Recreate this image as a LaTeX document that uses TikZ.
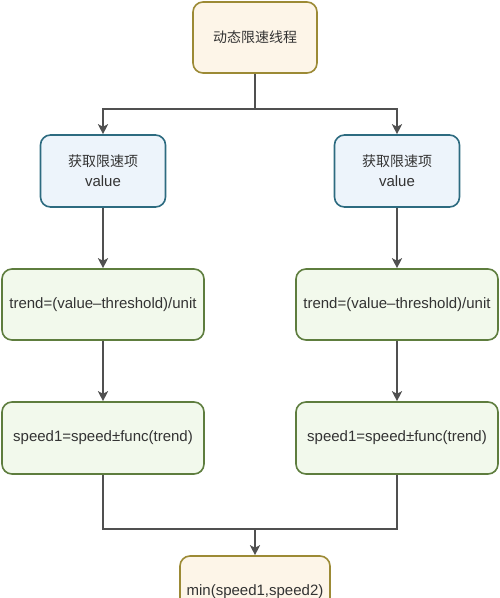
\documentclass[tikz,border=0pt]{standalone}
\usepackage{fontspec}
\setmainfont{Liberation Sans}
\newfontfamily\cjk{Noto Sans CJK SC}
\usetikzlibrary{arrows.meta}
\definecolor{txt}{HTML}{333333}
\definecolor{lin}{HTML}{505050}
\definecolor{yfill}{HTML}{FDF5E8}
\definecolor{ydraw}{HTML}{9C8A35}
\definecolor{bfill}{HTML}{EDF4FB}
\definecolor{bdraw}{HTML}{2D6B80}
\definecolor{gfill}{HTML}{F2F9EC}
\definecolor{gdraw}{HTML}{5E7D3E}
\tikzset{
  x=1pt, y=1pt,
  boxbase/.style={rounded corners=10pt, line width=1.6pt, align=center, text=txt, inner sep=0pt, font=\fontsize{15}{20}\selectfont},
  ybox/.style={boxbase, fill=yfill, draw=ydraw},
  bbox/.style={boxbase, fill=bfill, draw=bdraw, minimum width=125pt, minimum height=72pt},
  gbox/.style={boxbase, fill=gfill, draw=gdraw, minimum width=202pt, minimum height=71pt},
  arr/.style={draw=lin, line width=2pt, -{Stealth[length=10pt,width=10pt,inset=2.5pt]}},
  ln/.style={draw=lin, line width=2pt},
}
\begin{document}
\begin{tikzpicture}
\useasboundingbox (0,0) rectangle (500,-598);
\clip (0,0) rectangle (500,-598);
\node[ybox, minimum width=124pt, minimum height=71pt] (top) at (255,-37.5) {\cjk\fontsize{14}{20}\selectfont 动态限速线程};
\node[bbox] (b1) at (103,-171) {{\cjk\fontsize{14}{20}\selectfont 获取限速项}\\value};
\node[bbox] (b2) at (397,-171) {{\cjk\fontsize{14}{20}\selectfont 获取限速项}\\value};
\node[gbox] (g1) at (103,-304.5) {trend=(value\textendash threshold)/unit};
\node[gbox] (g2) at (397,-304.5) {trend=(value\textendash threshold)/unit};
\node[gbox, minimum height=72pt] (h1) at (103,-438) {speed1=speed\textpm func(trend)};
\node[gbox, minimum height=72pt] (h2) at (397,-438) {speed1=speed\textpm func(trend)};
\node[ybox, minimum width=150pt, minimum height=71pt] (mn) at (255,-591.5) {min(speed1,speed2)};
\coordinate (s) at (255,-109);
\coordinate (m) at (255,-529);
\draw[arr] (top.south) -- (s) -| (b1.north);
\draw[arr] (s) -| (b2.north);
\draw[arr] (b1.south) -- (g1.north -| b1.south);
\draw[arr] (b2.south) -- (g2.north -| b2.south);
\draw[arr] (g1.south) -- (h1.north);
\draw[arr] (g2.south) -- (h2.north);
\draw[ln] (h1.south) |- (m);
\draw[ln] (h2.south) |- (m);
\draw[arr] (m) -- (mn.north);
\end{tikzpicture}
\end{document}
